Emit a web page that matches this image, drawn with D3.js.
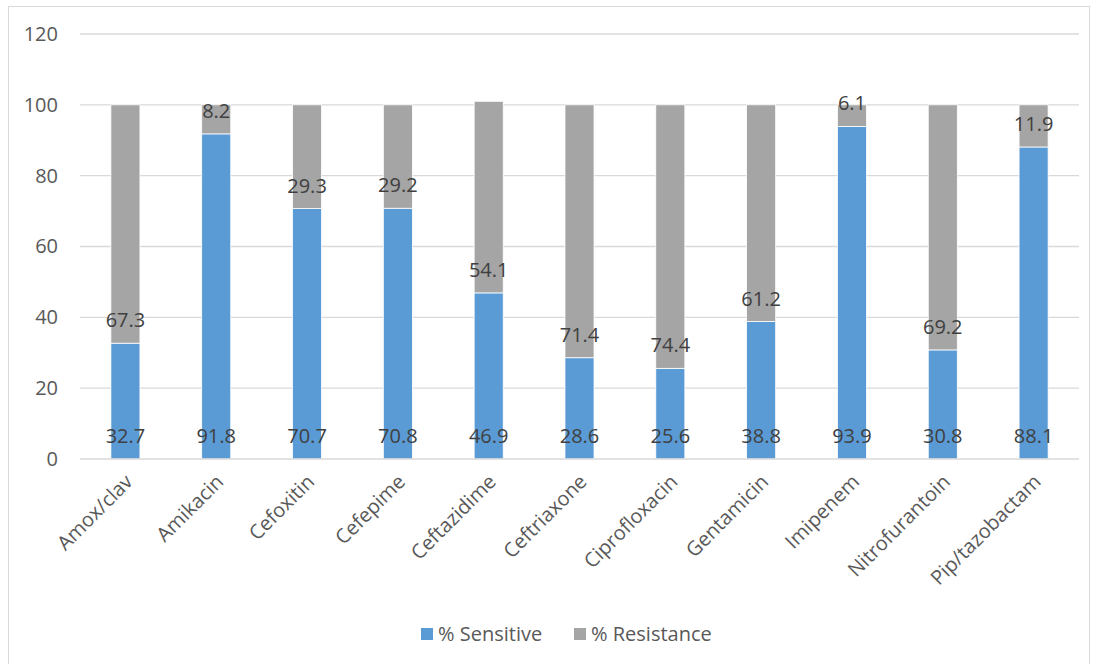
<!DOCTYPE html>
<html><head><meta charset="utf-8">
<script src="https://cdn.jsdelivr.net/npm/d3@7"></script>
<style>body{margin:0;background:#fff;} text{font-family:"Open Sans",sans-serif;fill:#595959;}</style>
</head><body>
<svg id="c" width="1093" height="664"></svg>
<script>
const categories = ["Amox/clav","Amikacin","Cefoxitin","Cefepime","Ceftazidime","Ceftriaxone","Ciprofloxacin","Gentamicin","Imipenem","Nitrofurantoin","Pip/tazobactam"];
const sensitive = [32.7,91.8,70.7,70.8,46.9,28.6,25.6,38.8,93.9,30.8,88.1];
const resistance = [67.3,8.2,29.3,29.2,54.1,71.4,74.4,61.2,6.1,69.2,11.9];
const yTicks = [0,20,40,60,80,100,120];
const seriesNames = ["% Sensitive","% Resistance"];
const colors = ["#5B9BD5","#A5A5A5"];
const FS = 20;

const svg = d3.select("#c");
svg.append("rect").attr("x",8.5).attr("y",6.5).attr("width",1081).attr("height",670)
  .attr("fill","#fff").attr("stroke","#D9D9D9");

const pLeft=80, pRight=1079, pTop=34, pBottom=459;
const x = d3.scaleBand().domain(categories).range([pLeft,pRight]).paddingInner(0.68).paddingOuter(0.34);
const y = d3.scaleLinear().domain([0,120]).range([pBottom,pTop]);

// gridlines
svg.append("g").selectAll("line").data(yTicks.filter(t=>t>0)).join("line")
  .attr("x1",pLeft).attr("x2",pRight).attr("y1",d=>y(d)).attr("y2",d=>y(d))
  .attr("stroke","#D9D9D9").attr("stroke-width",1.3);

// y labels
const yAxis = d3.axisLeft(y).tickValues(yTicks).tickSize(0).tickPadding(22);
const gy = svg.append("g").attr("transform",`translate(${pLeft},0)`).call(yAxis);
gy.select(".domain").remove();
gy.selectAll("text").attr("font-size",FS).style("font-family","'Open Sans',sans-serif").attr("fill","#595959");

const data = categories.map((c,i)=>({c, s:sensitive[i], r:resistance[i]}));
const stack = d3.stack().keys(["s","r"])(data);

const g = svg.append("g");
stack.forEach((layer,li)=>{
  g.selectAll(null).data(layer).join("rect")
    .attr("x",d=>x(d.data.c)).attr("width",x.bandwidth())
    .attr("y",d=>y(d[1])).attr("height",d=>y(d[0])-y(d[1]))
    .attr("fill",colors[li]).attr("stroke","#fff").attr("stroke-width",0.8);
});

// axis line
svg.append("line").attr("x1",pLeft).attr("x2",pRight).attr("y1",pBottom).attr("y2",pBottom)
  .attr("stroke","#D9D9D9").attr("stroke-width",1.5);

// value labels (inside base)
stack.forEach((layer,li)=>{
  g.selectAll(null).data(layer).join("text")
    .attr("x",d=>x(d.data.c)+x.bandwidth()/2)
    .attr("y",d=>y(d[0])-16)
    .attr("text-anchor","middle").attr("font-size",FS).style("fill","#404040")
    .text(d=>li===0?d.data.s:d.data.r);
});

// x labels
const gx = svg.append("g").attr("transform",`translate(0,${pBottom})`)
  .call(d3.axisBottom(x).tickSize(0).tickPadding(0));
gx.select(".domain").remove();
gx.selectAll("text").attr("font-size",FS).style("font-family","'Open Sans',sans-serif").attr("fill","#595959")
  .attr("text-anchor","end").attr("dy",0)
  .attr("transform",function(){return `translate(${x.bandwidth()/2-6},24) rotate(-45)`;});

// legend
const legendX=[421,574];
seriesNames.forEach((n,i)=>{
  svg.append("rect").attr("x",legendX[i]).attr("y",628).attr("width",12).attr("height",12).attr("fill",colors[i]);
  svg.append("text").attr("x",legendX[i]+17).attr("y",641).attr("font-size",FS).attr("fill","#595959").text(n);
});
</script>
</body></html>
